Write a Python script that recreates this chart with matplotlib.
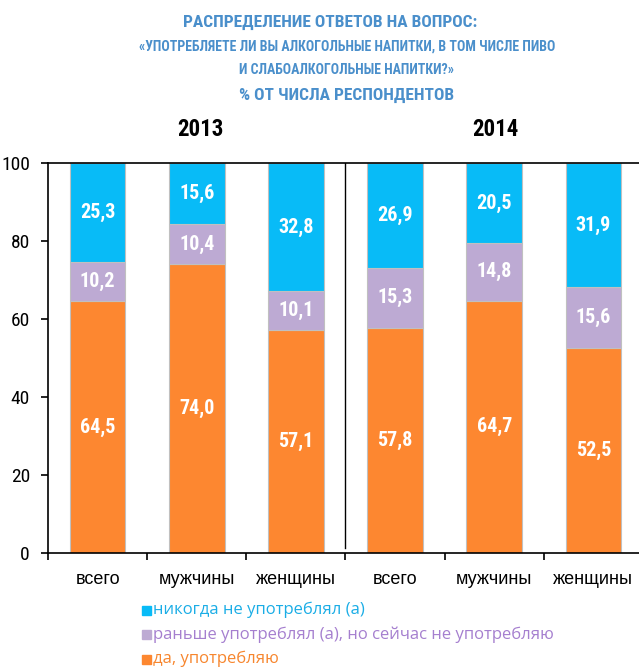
import matplotlib.pyplot as plt
import numpy as np

# data
categories = ['всего', 'мужчины', 'женщины', 'всего', 'мужчины', 'женщины']
years = ['2013', '2014']
yes_drink = [64.5, 74.0, 57.1, 57.8, 64.7, 52.5]
used_before = [10.2, 10.4, 10.1, 15.3, 14.8, 15.6]
never = [25.3, 15.6, 32.8, 26.9, 20.5, 31.9]
series_names = ['никогда не употреблял (а)',
                'раньше употреблял (а), но сейчас не употребляю',
                'да, употребляю']

c_blue = '#08bbf7'
c_purple = '#bdaad3'
c_orange = '#fd8730'
c_title = '#4a8fcb'

cond = ['Roboto Condensed', 'Liberation Sans Narrow', 'DejaVu Sans']

fig = plt.figure(figsize=(6.39, 6.67), dpi=100)
ax = fig.add_axes([48/639, 1-553/667, 1-48/639, (553-163)/667])

x = np.arange(len(categories))
w = 0.56
ec = '#c0c0c0'
ax.bar(x, yes_drink, w, color=c_orange, edgecolor=ec, lw=0.8)
ax.bar(x, used_before, w, bottom=yes_drink, color=c_purple, edgecolor=ec, lw=0.8)
bot3 = np.array(yes_drink) + np.array(used_before)
ax.bar(x, never, w, bottom=bot3, color=c_blue, edgecolor=ec, lw=0.8)

def fmt(v):
    return ('%.1f' % v).replace('.', ',')

for i in range(len(x)):
    ax.text(x[i], yes_drink[i]/2, fmt(yes_drink[i]), ha='center', va='center',
            color='white', fontsize=14.5, fontweight='bold', family=cond)
    ax.text(x[i], yes_drink[i] + used_before[i]/2, fmt(used_before[i]), ha='center',
            va='center', color='white', fontsize=14.5, fontweight='bold', family=cond)
    ax.text(x[i], bot3[i] + never[i]/2, fmt(never[i]), ha='center', va='center',
            color='white', fontsize=14.5, fontweight='bold', family=cond)

ax.set_ylim(0, 100)
ax.set_xlim(-0.5, 5.46)
ax.set_yticks([0, 20, 40, 60, 80, 100])
ax.set_yticklabels(['0', '20', '40', '60', '80', '100'], family=cond, fontsize=14)
ax.set_xticks(np.arange(-0.5, 5.5, 1))
ax.set_xticklabels([])
ax.tick_params(axis='x', length=5, width=1.2, direction='out')
ax.tick_params(axis='y', length=5, width=1.2, direction='out', pad=8)
for i, c in enumerate(categories):
    ax.text(x[i], -4.5, c, ha='center', va='top', fontsize=13, family='Liberation Sans')

ax.spines['right'].set_visible(False)
for s in ['left', 'bottom', 'top']:
    ax.spines[s].set_linewidth(1.2)
ax.axvline(2.5, ymin=0.013, ymax=1, color='black', lw=1)

# year labels
fig.text(200/639, 1-130/667, years[0], ha='center', va='center', fontsize=16.5,
         fontweight='bold', family=cond)
fig.text(495/639, 1-130/667, years[1], ha='center', va='center', fontsize=16.5,
         fontweight='bold', family=cond)

# title
fig.text(330/639, 1-22/667, 'РАСПРЕДЕЛЕНИЕ ОТВЕТОВ НА ВОПРОС:', ha='center', va='center',
         fontsize=12.5, fontweight='bold', color=c_title, family=cond)
fig.text(347/639, 1-47/667, '«УПОТРЕБЛЯЕТЕ ЛИ ВЫ АЛКОГОЛЬНЫЕ НАПИТКИ, В ТОМ ЧИСЛЕ ПИВО',
         ha='center', va='center', fontsize=10, fontweight='bold', color=c_title, family=cond)
fig.text(347/639, 1-70/667, 'И СЛАБОАЛКОГОЛЬНЫЕ НАПИТКИ?»', ha='center', va='center',
         fontsize=10, fontweight='bold', color=c_title, family=cond)
fig.text(347/639, 1-95/667, '% ОТ ЧИСЛА РЕСПОНДЕНТОВ', ha='center', va='center',
         fontsize=12.5, fontweight='bold', color=c_title, family=cond)

# legend
leg_colors = [c_blue, c_purple, c_orange]
leg_text_colors = ['#1aade6', '#a57fcf', '#f7862e']
for k in range(3):
    yy = 1 - (610 + 24.5*k)/667
    fig.patches.append(plt.Rectangle((142/639, yy - 4.5/667), 9/639, 9/667,
                                     transform=fig.transFigure, color=leg_colors[k]))
    fig.text(153/639, yy, series_names[k], ha='left', va='center', fontsize=12,
             color=leg_text_colors[k], family='Open Sans')

fig.savefig('out.png', dpi=100)
